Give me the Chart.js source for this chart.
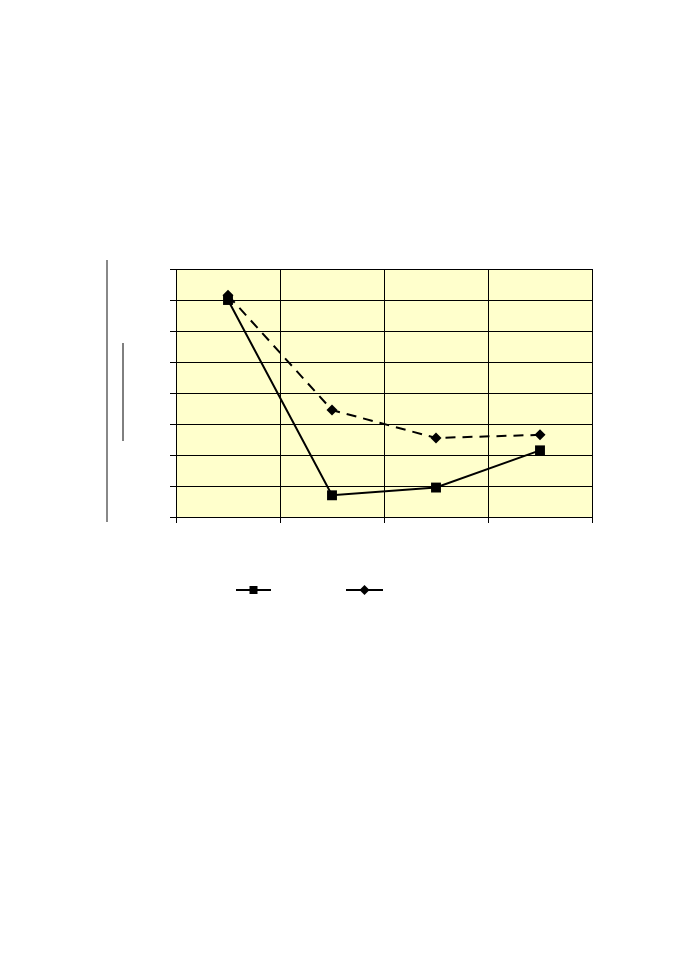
<!DOCTYPE html>
<html><head><meta charset="utf-8">
<script src="https://cdn.jsdelivr.net/npm/chart.js@4/dist/chart.umd.min.js"></script>
<style>html,body{margin:0;padding:0;background:#fff;}#wrap{width:678px;height:960px;position:relative;}</style>
</head><body><div id="wrap"><canvas id="c" width="678" height="960"></canvas></div>
<script>
const categories = ["1", "2", "3", "4"];
const seriesSquare = [7.0, 0.7, 0.95, 2.15];
const seriesDiamond = [7.15, 3.45, 2.55, 2.65];
const yTicks = [0, 1, 2, 3, 4, 5, 6, 7, 8];

const plotBg = {
  id: 'plotBg',
  beforeDraw(chart) {
    const {ctx, chartArea: a} = chart;
    ctx.save();
    ctx.fillStyle = '#FFFFCC';
    ctx.fillRect(a.left, a.top, a.right - a.left, a.bottom - a.top);
    ctx.restore();
  },
  afterDraw(chart) {
    const {ctx, chartArea: a} = chart;
    ctx.save();
    // decorative axis-title remnants
    ctx.strokeStyle = '#888';
    ctx.lineWidth = 2;
    ctx.beginPath(); ctx.moveTo(a.left - 69, a.top - 9); ctx.lineTo(a.left - 69, a.bottom + 5); ctx.stroke();
    ctx.strokeStyle = '#000';
    ctx.lineWidth = 1;
    ctx.beginPath(); ctx.moveTo(a.left - 53, a.top + 74); ctx.lineTo(a.left - 53, a.top + 172); ctx.stroke();
    // custom legend
    const items = [{x0: 236, x1: 271, ds: chart.data.datasets[0]}, {x0: 346, x1: 383, ds: chart.data.datasets[1]}];
    const ly = 590;
    items.forEach(it => {
      ctx.strokeStyle = '#000';
      ctx.lineWidth = 2;
      ctx.setLineDash([]);
      ctx.beginPath(); ctx.moveTo(it.x0, ly); ctx.lineTo(it.x1, ly); ctx.stroke();
      const cx = (it.x0 + it.x1) / 2;
      ctx.fillStyle = '#000';
      if (it.ds.pointStyle === 'rect') {
        ctx.fillRect(cx - 4, ly - 4, 8, 8);
      } else {
        ctx.beginPath(); ctx.moveTo(cx, ly - 5); ctx.lineTo(cx + 5, ly); ctx.lineTo(cx, ly + 5); ctx.lineTo(cx - 5, ly); ctx.closePath(); ctx.fill();
      }
    });
    ctx.restore();
  }
};

new Chart(document.getElementById('c'), {
  type: 'line',
  data: {
    labels: categories,
    datasets: [
      {label: 'A', data: seriesSquare, borderColor: '#000', backgroundColor: '#000', borderWidth: 2,
       pointStyle: 'rect', pointRadius: 7, pointBorderWidth: 0, tension: 0, fill: false},
      {label: 'B', data: seriesDiamond, borderColor: '#000', backgroundColor: '#000', borderWidth: 2,
       borderDash: [10, 7], pointStyle: 'rectRot', pointRadius: 5.5, pointBorderWidth: 0, tension: 0, fill: false}
    ]
  },
  options: {
    responsive: false,
    animation: false,
    devicePixelRatio: 1,
    layout: {padding: {left: 0, top: 269, right: 86, bottom: 0}},
    plugins: {legend: {display: false}, tooltip: {enabled: false}},
    scales: {
      x: {
        offset: true,
        grid: {offset: true, color: '#000', lineWidth: 1, drawTicks: true, tickLength: 6, tickColor: '#000'},
        border: {display: true, color: '#000', width: 1},
        ticks: {display: false},
        afterFit(s) { s.height = 443; }
      },
      y: {
        min: 0, max: 8,
        afterBuildTicks(s) { s.ticks = yTicks.map(v => ({value: v})); },
        grid: {color: '#000', lineWidth: 1, drawTicks: true, tickLength: 6, tickColor: '#000'},
        border: {display: true, color: '#000', width: 1},
        ticks: {display: false},
        afterFit(s) { s.width = 176; }
      }
    }
  },
  plugins: [plotBg]
});
</script></body></html>
